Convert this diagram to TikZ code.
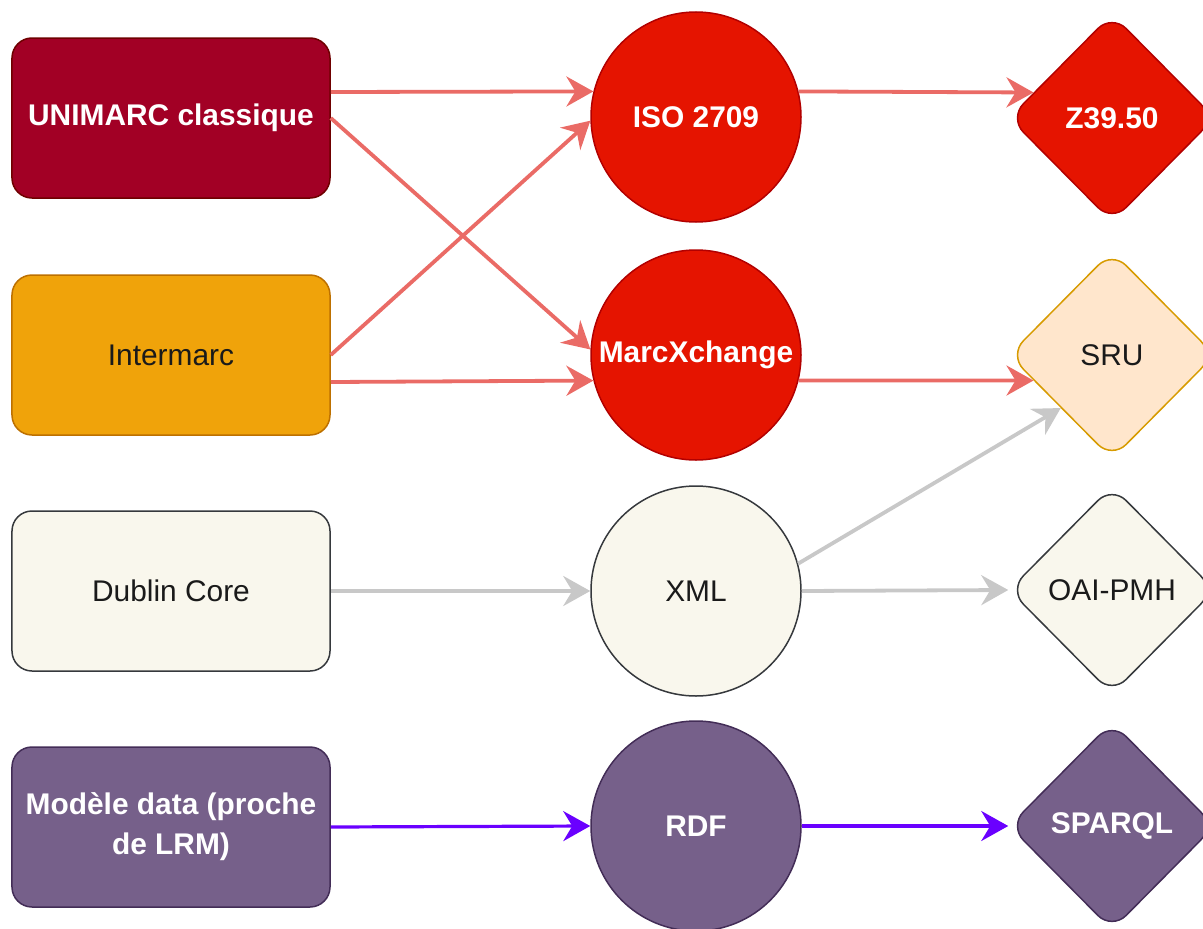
\documentclass[tikz,border=0pt]{standalone}
\usepackage{fontspec}
\setmainfont{Liberation Sans}
\usetikzlibrary{shapes.geometric,arrows.meta}
\definecolor{cUni}{HTML}{A20025}\definecolor{sUni}{HTML}{6F0000}
\definecolor{cInt}{HTML}{F0A30A}\definecolor{sInt}{HTML}{BD7000}
\definecolor{cDub}{HTML}{F9F7ED}\definecolor{sDub}{HTML}{36393D}
\definecolor{cPur}{HTML}{76608A}\definecolor{sPur}{HTML}{432D57}
\definecolor{cRed}{HTML}{E51400}\definecolor{sRed}{HTML}{B20000}
\definecolor{cSru}{HTML}{FFE6CC}\definecolor{sSru}{HTML}{D79B00}
\definecolor{aRed}{HTML}{EA6B66}\definecolor{aGray}{HTML}{C8C8C8}
\definecolor{aPur}{HTML}{6A00FF}\definecolor{tDark}{HTML}{1A1A1A}
\tikzset{
  base/.style={line width=1.5bp, inner sep=0pt, align=center, font=\fontsize{30}{40}\selectfont},
  boxnode/.style={base, rectangle, rounded corners=20bp, minimum width=318bp, minimum height=160bp},
  circnode/.style={base, circle, minimum size=210bp},
  diamnode/.style={base, diamond, rounded corners=20bp, minimum width=206bp, minimum height=208bp},
  whitetxt/.style={text=white, font=\fontsize{30}{40}\selectfont\bfseries},
  darktxt/.style={text=tDark},
  tipstyle/.style={-{Stealth[length=27bp,width=30bp,inset=9bp]}},
  redarr/.style={draw=aRed, line width=3.8bp, tipstyle},
  grayarr/.style={draw=aGray, line width=3.8bp, tipstyle},
  purarr/.style={draw=aPur, line width=3.2bp, tipstyle}
}
\begin{document}
\begin{tikzpicture}[x=1bp,y=-1bp]
\useasboundingbox (0,0) rectangle (1203,929);
% left column
\node[boxnode, fill=cUni, draw=sUni, whitetxt] (uni) at (171,118) {UNIMARC classique};
\node[boxnode, fill=cInt, draw=sInt, darktxt] (inter) at (171,355) {Intermarc};
\node[boxnode, fill=cDub, draw=sDub, darktxt] (dub) at (171,591) {Dublin Core};
\node[boxnode, fill=cPur, draw=sPur, whitetxt] (mod) at (171,827) {Modèle data (proche\\de LRM)};
% middle column
\node[circnode, fill=cRed, draw=sRed, whitetxt] (iso) at (696,117) {ISO 2709};
\node[circnode, fill=cRed, draw=sRed, whitetxt] (marc) at (696,355) {MarcXchange};
\node[circnode, fill=cDub, draw=sDub, darktxt] (xml) at (696,591) {XML};
\node[circnode, fill=cPur, draw=sPur, whitetxt] (rdf) at (696,826) {RDF};
% right column
\node[diamnode, fill=cRed, draw=sRed, whitetxt] (z39) at (1112,118) {Z39.50};
\node[diamnode, fill=cSru, draw=sSru, darktxt] (sru) at (1112,355) {SRU};
\node[diamnode, fill=cDub, draw=sDub, darktxt] (oai) at (1112,590) {OAI-PMH};
\node[diamnode, fill=cPur, draw=sPur, whitetxt] (sparql) at (1112,826) {SPARQL};
% connectors
\draw[redarr] ([yshift=26bp]uni.east) -- (iso.166);
\draw[redarr] (uni.east) -- (marc.177);
\draw[redarr] (inter.east) -- (iso.182);
\draw[redarr] ([yshift=-27bp]inter.east) -- (marc.194);
\draw[redarr] (iso.14) -- (z39.162);
\draw[redarr] (marc.346) -- (sru.198);
\draw[grayarr] (xml.15) -- (sru.226);
\draw[grayarr] (dub.east) -- (xml.west);
\draw[grayarr] (xml.east) -- (oai.west);
\draw[purarr] (mod.east) -- (rdf.west);
\draw[purarr] (rdf.east) -- (sparql.west);
\end{tikzpicture}
\end{document}
